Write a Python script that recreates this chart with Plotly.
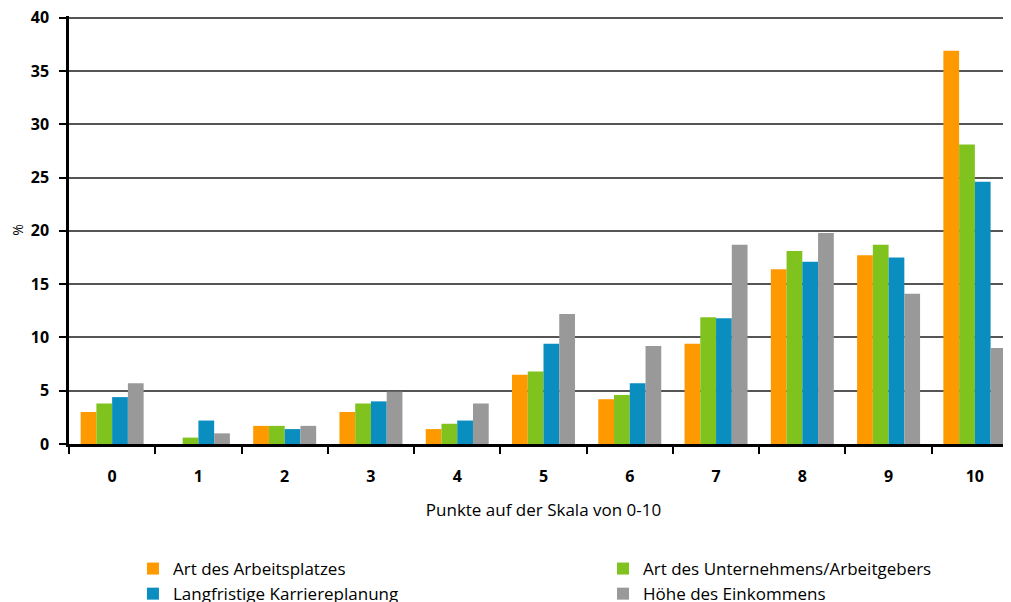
import plotly.graph_objects as go

categories = ["0", "1", "2", "3", "4", "5", "6", "7", "8", "9", "10"]
art_arbeitsplatz = [3.0, 0.0, 1.7, 3.0, 1.4, 6.5, 4.2, 9.4, 16.4, 17.7, 36.9]
art_unternehmen = [3.8, 0.6, 1.7, 3.8, 1.9, 6.8, 4.6, 11.9, 18.1, 18.7, 28.1]
karriereplanung = [4.4, 2.2, 1.4, 4.0, 2.2, 9.4, 5.7, 11.8, 17.1, 17.5, 24.6]
einkommen = [5.7, 1.0, 1.7, 4.9, 3.8, 12.2, 9.2, 18.7, 19.8, 14.1, 9.0]

series = [
    ("Art des Arbeitsplatzes", art_arbeitsplatz, "#FF9900", "legend"),
    ("Art des Unternehmens/Arbeitgebers", art_unternehmen, "#80C21E", "legend2"),
    ("Langfristige Karriereplanung", karriereplanung, "#0A8EC0", "legend"),
    ("Höhe des Einkommens", einkommen, "#999999", "legend2"),
]

font_family = "Open Sans"

fig = go.Figure()
for name, vals, color, lg in series:
    fig.add_trace(go.Bar(x=categories, y=vals, name=name, marker_color=color,
                         marker_line_width=0, legend=lg))

legend_common = dict(orientation="v", xref="paper", yref="container",
                     xanchor="left", yanchor="top",
                     font=dict(family=font_family, size=17, color="black"),
                     traceorder="normal", itemwidth=30, tracegroupgap=0,
                     bgcolor="rgba(0,0,0,0)")

fig.update_layout(
    width=1011, height=602,
    margin=dict(l=61, r=1, t=8, b=166),
    paper_bgcolor="white", plot_bgcolor="white",
    barmode="group", bargap=0.27, bargroupgap=0,
    font=dict(family=font_family, size=16, color="black"),
    showlegend=True,
    legend=dict(x=0.0674, y=0.098, **legend_common),
    legend2=dict(x=0.5627, y=0.098, **legend_common),
    xaxis=dict(
        type="category", automargin=False,
        showline=True, linecolor="black", linewidth=2.5,
        ticks="outside", tickson="boundaries", ticklen=7, tickwidth=2, tickcolor="black",
        tickfont=dict(family=font_family, size=16, color="black", weight="bold"),
        ticklabelstandoff=16,
        title=dict(text="Punkte auf der Skala von 0-10", standoff=19,
                   font=dict(family=font_family, size=17, color="black")),
        showgrid=False,
    ),
    yaxis=dict(
        range=[0, 40.15], dtick=5, tick0=0, automargin=False,
        showline=True, linecolor="black", linewidth=2.5,
        ticks="outside", ticklen=7, tickwidth=2, tickcolor="black",
        tickfont=dict(family=font_family, size=16, color="black", weight="bold"),
        ticklabelstandoff=7, ticklabeloverflow="allow",
        showgrid=True, gridcolor="#555555", gridwidth=1.5,
        zeroline=False,
        title=dict(text="%", standoff=6,
                   font=dict(family=font_family, size=14, color="black")),
    ),
)

fig.write_html("out.html")
